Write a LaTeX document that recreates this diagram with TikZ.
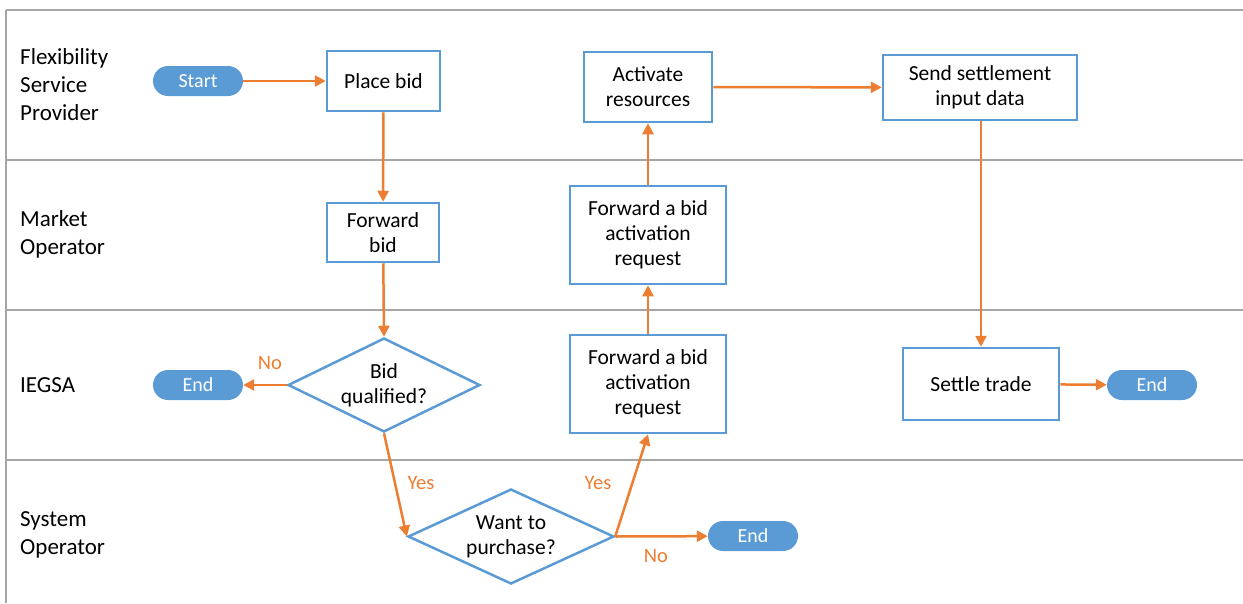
\documentclass[tikz,border=0pt]{standalone}
\usepackage{fontspec}
\setmainfont{Carlito}
\usetikzlibrary{arrows.meta,shapes.geometric}
\definecolor{laneline}{HTML}{A6A6A6}
\definecolor{boxblue}{HTML}{5B9BD5}
\definecolor{flow}{HTML}{ED7D31}
\begin{document}
\begin{tikzpicture}[x=1pt,y=-1pt,
  lane/.style={draw=laneline,line width=2pt},
  lanelabel/.style={anchor=west,align=left,inner sep=0pt,
    font=\fontsize{23}{28}\selectfont},
  procbox/.style={draw=boxblue,line width=2.5pt,fill=white,align=center,
    inner sep=0pt,font=\fontsize{21.5}{25}\selectfont},
  decision/.style={diamond,aspect=2,draw=boxblue,line width=2.5pt,fill=white,
    align=center,inner sep=0pt,font=\fontsize{21.5}{25}\selectfont},
  terminal/.style={fill=boxblue,rounded corners=15pt,minimum width=90pt,
    minimum height=30pt,text=white,inner sep=0pt,font=\fontsize{20}{24}\selectfont},
  flowarrow/.style={draw=flow,line width=2.5pt,
    -{Triangle[length=11pt,width=11pt]}},
  answer/.style={text=flow,inner sep=0pt,font=\fontsize{20.5}{24}\selectfont}]
  \useasboundingbox (0,0) rectangle (1243,603);

  % swimlane frame
  \draw[lane] (6,10) -- (1243,10);
  \draw[lane] (6,10) -- (6,603);
  \draw[lane] (6,160) -- (1243,160);
  \draw[lane] (6,310) -- (1243,310);
  \draw[lane] (6,460) -- (1243,460);

  % lane titles
  \node[lanelabel] (lfsp) at (20,85) {Flexibility\\Service\\Provider};
  \node[lanelabel] (lmo) at (20,234) {Market\\Operator};
  \node[lanelabel] (liegsa) at (20,385) {IEGSA};
  \node[lanelabel] (lso) at (20,535) {System\\Operator};

  % process steps
  \node[terminal] (start) at (198,81) {Start};
  \node[procbox,minimum width=113pt,minimum height=60pt] (place) at (383.5,81) {Place bid};
  \node[procbox,minimum width=112pt,minimum height=59pt] (fwdbid) at (383,232.5) {Forward\\bid};
  \node[decision,minimum width=192pt,minimum height=94pt] (qual) at (384,385) {Bid\\qualified?};
  \node[terminal] (end1) at (198,385) {End};
  \node[decision,minimum width=206pt,minimum height=95pt] (want) at (511,536.5) {Want to\\purchase?};
  \node[terminal] (end2) at (753,536) {End};
  \node[procbox,minimum width=156pt,minimum height=98pt] (fwdi) at (648,384) {Forward a bid\\activation\\request};
  \node[procbox,minimum width=156pt,minimum height=98pt] (fwdm) at (648,235) {Forward a bid\\activation\\request};
  \node[procbox,minimum width=128pt,minimum height=70pt] (activate) at (648,87) {Activate\\resources};
  \node[procbox,minimum width=194pt,minimum height=65pt] (send) at (980,87.5) {Send settlement\\input data};
  \node[procbox,minimum width=156pt,minimum height=72pt] (settle) at (981,384) {Settle trade};
  \node[terminal] (end3) at (1152,385) {End};

  % flow connectors
  \draw[flowarrow] (start) -- (place);
  \draw[flowarrow] (place) -- (fwdbid);
  \draw[flowarrow] (fwdbid) -- (qual.north);
  \draw[flowarrow] (qual.west) -- (end1);
  \draw[flowarrow] (qual.south) -- (want.west);
  \draw[flowarrow] (want.east) -- (fwdi.south);
  \draw[flowarrow] (want.east) -- (end2);
  \draw[flowarrow] (fwdi) -- (fwdm);
  \draw[flowarrow] (fwdm) -- (activate);
  \draw[flowarrow] (activate) -- (send);
  \draw[flowarrow] (send.south -| settle.north) -- (settle.north);
  \draw[flowarrow] (settle) -- (end3);

  % branch answers
  \node[answer] (no1) at (270,363) {No};
  \node[answer] (yes1) at (421,483) {Yes};
  \node[answer] (yes2) at (598,483) {Yes};
  \node[answer] (no2) at (656,556) {No};
\end{tikzpicture}
\end{document}
